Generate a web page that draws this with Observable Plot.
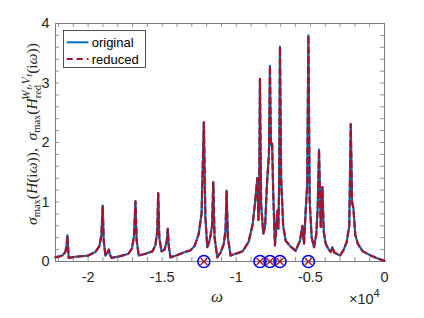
<!DOCTYPE html>
<html>
<head>
<meta charset="utf-8">
<script src="https://cdn.jsdelivr.net/npm/d3@7"></script>
<script src="https://cdn.jsdelivr.net/npm/@observablehq/plot@0.6"></script>
<style>
  html, body { margin: 0; padding: 0; background: #fff; }
  #chart { width: 424px; height: 318px; }
</style>
</head>
<body>
<div id="chart"></div>
<script>
// frequency grid (omega) and sigma_max values
const omega = [
  -22200, -21734, -21534, -21446, -21399, -21351, -21311, -20858, -19980, -19507,
  -19236, -19101, -19014, -18946, -18831, -18696, -18608, -18527, -18426, -17818,
  -17277, -17041, -16905, -16804, -16723, -16581, -16128, -15655, -15453, -15338,
  -15270, -15196, -15047, -14845, -14689, -14622, -14554, -14439, -13966, -13561,
  -13088, -12818, -12547, -12345, -12189, -12088, -11959, -11838, -11736, -11635,
  -11554, -11466, -11284, -11061, -10838, -10723, -10655, -10568, -10385, -10047,
  -9574, -9169, -8899, -8730, -8581, -8507, -8459, -8405, -8324, -8176,
  -8054, -7986, -7919, -7797, -7730, -7662, -7581, -7514, -7392, -7311,
  -7230, -7162, -7108, -7054, -6973, -6838, -6669, -6331, -5993, -5703,
  -5541, -5432, -5318, -5216, -5135, -5047, -4912, -4757, -4608, -4507,
  -4419, -4304, -4189, -4101, -3966, -3764, -3628, -3514, -3392, -3000,
  -2750, -2547, -2378, -2277, -2189, -2095, -1973, -1804, -1466, -926,
  -453, 0
];
const sigmaOriginal = [
  0.07, 0.10, 0.16, 0.28, 0.44, 0.25, 0.06, 0.08, 0.10, 0.16,
  0.26, 0.45, 0.94, 0.35, 0.10, 0.15, 0.20, 0.12, 0.06, 0.09,
  0.13, 0.22, 0.42, 1.01, 0.35, 0.10, 0.13, 0.17, 0.28, 0.50,
  1.15, 0.40, 0.17, 0.20, 0.35, 0.55, 0.25, 0.07, 0.11, 0.15,
  0.19, 0.26, 0.45, 0.80, 2.34, 0.75, 0.24, 0.32, 0.44, 0.60,
  1.33, 0.40, 0.07, 0.15, 0.30, 0.55, 1.19, 0.40, 0.10, 0.13,
  0.17, 0.33, 0.62, 1.00, 1.40, 0.70, 1.00, 3.07, 0.95, 0.47,
  0.60, 1.00, 1.35, 1.80, 3.29, 1.95, 1.98, 1.20, 0.27, 0.55,
  0.86, 0.55, 1.30, 3.61, 1.40, 0.60, 0.35, 0.25, 0.18, 0.35,
  0.60, 0.30, 0.86, 1.30, 3.80, 1.00, 0.40, 0.24, 0.45, 0.90,
  1.88, 0.58, 1.25, 0.50, 0.30, 0.20, 0.16, 0.24, 0.15, 0.10,
  0.20, 0.33, 0.60, 2.31, 1.00, 0.89, 0.45, 0.30, 0.17, 0.10,
  0.05, 0.01
];
const sigmaReduced = [
  0.07, 0.10, 0.16, 0.28, 0.44, 0.25, 0.06, 0.08, 0.10, 0.16,
  0.26, 0.45, 0.94, 0.35, 0.10, 0.15, 0.20, 0.12, 0.06, 0.09,
  0.13, 0.22, 0.42, 1.01, 0.35, 0.10, 0.13, 0.17, 0.28, 0.50,
  1.15, 0.40, 0.17, 0.20, 0.35, 0.55, 0.25, 0.07, 0.11, 0.15,
  0.19, 0.26, 0.45, 0.80, 2.34, 0.75, 0.24, 0.32, 0.44, 0.60,
  1.33, 0.40, 0.07, 0.15, 0.30, 0.55, 1.19, 0.40, 0.10, 0.13,
  0.17, 0.33, 0.62, 1.00, 1.40, 0.70, 1.00, 3.07, 0.95, 0.47,
  0.60, 1.00, 1.35, 1.80, 3.29, 1.95, 1.98, 1.20, 0.27, 0.55,
  0.86, 0.55, 1.30, 3.61, 1.40, 0.60, 0.35, 0.25, 0.18, 0.35,
  0.60, 0.30, 0.86, 1.30, 3.80, 1.00, 0.40, 0.24, 0.45, 0.90,
  1.88, 0.58, 1.25, 0.50, 0.30, 0.20, 0.16, 0.24, 0.15, 0.10,
  0.20, 0.33, 0.60, 2.31, 1.00, 0.89, 0.45, 0.30, 0.17, 0.10,
  0.05, 0.01
];
// interpolation points (markers on the omega axis)
const markerOmega = [-12189, -8405, -7730, -7054, -5135];
const markerSigma = [0, 0, 0, 0, 0];
// tick values
const xTickValues = [-20000, -15000, -10000, -5000, 0];
const xTickLabels = ["-2", "-1.5", "-1", "-0.5", "0"];
const xMinorTicks = d3.range(-22000, 1, 1000);
const yTickValues = [0, 1, 2, 3, 4];
const yTickLabels = ["0", "1", "2", "3", "4"];
const yMinorTicks = d3.range(0, 4.01, 0.2).map(v => +v.toFixed(1));
const legendLabels = ["original", "reduced"];

const curve = omega.map((w, i) => ({omega: w, original: sigmaOriginal[i], reduced: sigmaReduced[i]}));
const markers = markerOmega.map((w, i) => ({omega: w, sigma: markerSigma[i]}));

const W = 424, H = 318, mL = 55, mR = 40, mT = 23, mB = 57;
const fw = W - mL - mR, fh = H - mT - mB;
const axisColor = "#262626";
const tickColor = "#7a7a7a";

const chart = Plot.plot({
  width: W, height: H,
  marginLeft: mL, marginRight: mR, marginTop: mT, marginBottom: mB,
  style: {fontFamily: "'Liberation Sans', Arial, sans-serif", fontSize: "14px", color: axisColor, background: "#fff"},
  x: {domain: [-22200, 0]},
  y: {domain: [0, 4]},
  marks: [
    Plot.frame({stroke: tickColor, strokeWidth: 1}),
    // inward ticks on all four sides
    Plot.ruleX(xMinorTicks, {stroke: tickColor, strokeWidth: 0.8, insetBottom: fh - 4}),
    Plot.ruleX(xMinorTicks, {stroke: tickColor, strokeWidth: 0.8, insetTop: fh - 4}),
    Plot.ruleY(yMinorTicks, {stroke: tickColor, strokeWidth: 0.8, insetRight: fw - 4}),
    Plot.ruleY(yMinorTicks, {stroke: tickColor, strokeWidth: 0.8, insetLeft: fw - 4}),
    Plot.axisX({ticks: xTickValues, tickFormat: d => xTickLabels[xTickValues.indexOf(d)],
      tickSize: 0, tickPadding: 10, label: null, fontSize: 14.5}),
    Plot.axisY({ticks: yTickValues, tickFormat: d => yTickLabels[yTickValues.indexOf(d)],
      tickSize: 0, tickPadding: 6, label: null, fontSize: 14.5}),
    Plot.line(curve, {x: "omega", y: "original", stroke: "#0072BD", strokeWidth: 2.2}),
    Plot.line(curve, {x: "omega", y: "reduced", stroke: "#A2142F", strokeWidth: 2.2, strokeDasharray: "6,4"}),
    Plot.dot(markers, {x: "omega", y: "sigma", r: 6, stroke: "#0000FF", strokeWidth: 1.6, fill: "none"}),
    Plot.dot(markers, {x: "omega", y: "sigma", r: 3.2, symbol: "times", stroke: "#A2142F", strokeWidth: 1.4})
  ]
});

document.getElementById("chart").appendChild(chart);
const svg = d3.select(chart);

// legend
const lg = svg.append("g").attr("font-family", "'Liberation Sans', Arial, sans-serif")
  .attr("font-size", 13).attr("text-anchor", "start");
lg.append("rect").attr("x", 63.5).attr("y", 30.5).attr("width", 82).attr("height", 37)
  .attr("fill", "#fff").attr("stroke", axisColor).attr("stroke-width", 0.8);
const legendStyles = [
  {stroke: "#0072BD", dash: null},
  {stroke: "#A2142F", dash: "6,4"}
];
legendLabels.forEach((name, i) => {
  const y = 42.3 + i * 16.7;
  const l = lg.append("line").attr("x1", 66.7).attr("x2", 88.5).attr("y1", y).attr("y2", y)
    .attr("stroke", legendStyles[i].stroke).attr("stroke-width", 2);
  if (legendStyles[i].dash) l.attr("stroke-dasharray", legendStyles[i].dash);
  lg.append("text").attr("x", 91.7).attr("y", y + 4.6).attr("fill", "#000")
    .attr("text-anchor", "start").text(name);
});

// x label and exponent
svg.append("text").attr("x", 217).attr("y", 302).attr("text-anchor", "middle")
  .attr("font-family", "'Liberation Serif', 'DejaVu Serif', serif").attr("font-style", "italic")
  .attr("font-size", 17).attr("fill", axisColor).text("ω");
const ex = svg.append("text").attr("x", 349).attr("y", 304).attr("text-anchor", "start")
  .attr("font-family", "'Liberation Sans', Arial, sans-serif").attr("font-size", 14.5).attr("fill", axisColor);
ex.append("tspan").text("×10");
ex.append("tspan").attr("font-size", 11).attr("dy", -7).text("4");

// y label (rotated)
const yl = svg.append("text")
  .attr("transform", "translate(37,134) rotate(-90)")
  .attr("text-anchor", "middle")
  .attr("font-family", "'Liberation Serif', 'DejaVu Serif', serif")
  .attr("font-size", 15.5).attr("fill", axisColor);
const sp = (txt, opts = {}) => {
  const t = yl.append("tspan").text(txt);
  if (opts.it) t.attr("font-style", "italic");
  if (opts.fs) t.attr("font-size", opts.fs);
  if (opts.dy) t.attr("dy", opts.dy);
  if (opts.dx) t.attr("dx", opts.dx);
  return t;
};
sp("σ", {it: true});
sp("max", {fs: 10.5, dy: 3});
sp("(", {dy: -3});
sp("H", {it: true});
sp("(i");
sp("ω", {it: true});
sp(")),  ");
sp("σ", {it: true});
sp("max", {fs: 10.5, dy: 3});
sp("(", {dy: -3});
sp("H", {it: true});
sp("red", {fs: 10.5, dy: 4});
sp("W", {it: true, fs: 11.5, dy: -11, dx: -15});
sp("ℓ", {it: true, fs: 8, dy: 2});
sp(",", {fs: 11, dy: -2});
sp("V", {it: true, fs: 11.5});
sp("ℓ", {it: true, fs: 8, dy: 2});
sp("(i", {dy: 5});
sp("ω", {it: true});
sp("))");
</script>
</body>
</html>
